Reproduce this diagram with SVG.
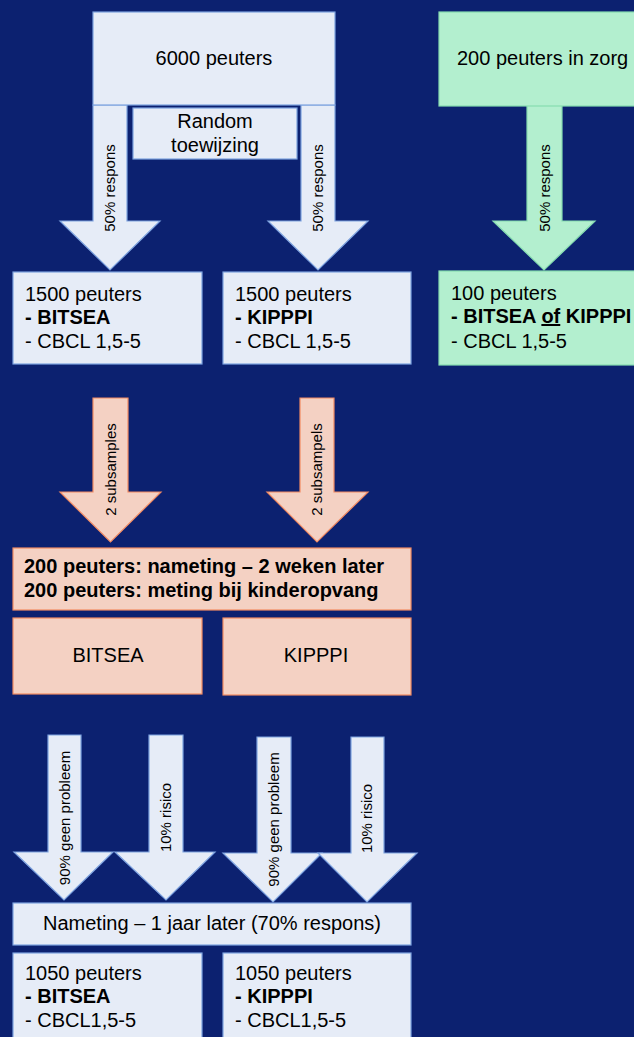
<svg xmlns="http://www.w3.org/2000/svg" width="634" height="1037" viewBox="0 0 634 1037">
<style>
text{font-family:"Liberation Sans",Arial,sans-serif;fill:#000}
.t{font-size:20px}
.b{font-weight:bold}
.r{font-size:15px;text-anchor:middle}
.m{text-anchor:middle}
.blue{fill:#e6ecf7;stroke:#7ea3e0;stroke-width:1.2}
.green{fill:#b3efcf;stroke:#86dcb0;stroke-width:1.2}
.orange{fill:#f4d1c3;stroke:#f28a62;stroke-width:1.2}
</style>
<rect width="634" height="1037" fill="#0c2170"/>
<g id="connectors">
<polygon class="blue" points="93,105 127,105 127,221 160,221 110,270 60,221 93,221"/>
<polygon class="blue" points="301,105 335,105 335,221 368,221 318,270 268,221 301,221"/>
<polygon class="green" points="527,105 562,105 562,221 595,221 544,270 493,221 527,221"/>
<polygon class="orange" points="93,398 128,398 128,492 161,492 110.5,542 60,492 93,492"/>
<polygon class="orange" points="300,398 334,398 334,492 368,492 317,542 267,492 300,492"/>
<polygon class="blue" points="48,735 81,735 81,852 113,852 64,900 14,852 48,852"/>
<polygon class="blue" points="149,735 183,735 183,852 215,852 166,900 115,852 149,852"/>
<polygon class="blue" points="257,737 291,737 291,853 322,853 273,902 223,853 257,853"/>
<polygon class="blue" points="351,737 384,737 384,853 417,853 367,902 318,853 351,853"/>
<text class="r" transform="translate(115,188) rotate(-90)">50% respons</text>
<text class="r" transform="translate(323,188) rotate(-90)">50% respons</text>
<text class="r" transform="translate(549.5,188) rotate(-90)">50% respons</text>
<text class="r" transform="translate(115.5,469.5) rotate(-90)">2 subsamples</text>
<text class="r" transform="translate(322,469.5) rotate(-90)">2 subsampels</text>
<text class="r" transform="translate(69.5,818) rotate(-90)">90% geen probleem</text>
<text class="r" transform="translate(171,817.5) rotate(-90)">10% risico</text>
<text class="r" transform="translate(278.5,819.5) rotate(-90)">90% geen probleem</text>
<text class="r" transform="translate(372,818.5) rotate(-90)">10% risico</text>
</g>
<g id="n6000">
<rect class="blue" x="93" y="12" width="242" height="93"/>
<text class="t m" x="214" y="65">6000 peuters</text>
</g>
<g id="random">
<rect class="blue" x="133" y="108" width="164" height="51"/>
<text class="t m" x="215" y="128">Random</text>
<text class="t m" x="215" y="152">toewijzing</text>
</g>
<g id="n200zorg">
<rect class="green" x="439" y="12" width="210" height="94"/>
<text class="t" x="457" y="65">200 peuters in zorg</text>
</g>
<g id="n1500a">
<rect class="blue" x="13" y="272" width="189" height="92"/>
<text class="t" x="25" y="301">1500 peuters</text>
<text class="t b" x="25" y="324">- BITSEA</text>
<text class="t" x="25" y="348">- CBCL 1,5-5</text>
</g>
<g id="n1500b">
<rect class="blue" x="223" y="272" width="188" height="92"/>
<text class="t" x="235" y="301">1500 peuters</text>
<text class="t b" x="235" y="324">- KIPPPI</text>
<text class="t" x="235" y="348">- CBCL 1,5-5</text>
</g>
<g id="n100">
<rect class="green" x="439" y="271" width="210" height="94"/>
<text class="t" x="451" y="300">100 peuters</text>
<text class="t b" x="451" y="323">- BITSEA <tspan text-decoration="underline">of</tspan> KIPPPI</text>
<text class="t" x="451" y="348">- CBCL 1,5-5</text>
</g>
<g id="n200sub">
<rect class="orange" x="13" y="548" width="398" height="62"/>
<text class="t b" x="24" y="573">200 peuters: nameting – 2 weken later</text>
<text class="t b" x="24" y="597">200 peuters: meting bij kinderopvang</text>
</g>
<g id="bitsea">
<rect class="orange" x="13" y="618" width="189" height="76"/>
<text class="t m" x="108" y="662">BITSEA</text>
</g>
<g id="kipppi">
<rect class="orange" x="223" y="618" width="188" height="77"/>
<text class="t m" x="316" y="662">KIPPPI</text>
</g>
<g id="nameting">
<rect class="blue" x="13" y="903" width="398" height="42"/>
<text class="t m" x="212" y="930">Nameting – 1 jaar later (70% respons)</text>
</g>
<g id="n1050a">
<rect class="blue" x="13" y="953" width="189" height="100"/>
<text class="t" x="25" y="980">1050 peuters</text>
<text class="t b" x="25" y="1003">- BITSEA</text>
<text class="t" x="25" y="1027">- CBCL1,5-5</text>
</g>
<g id="n1050b">
<rect class="blue" x="223" y="953" width="188" height="100"/>
<text class="t" x="235" y="980">1050 peuters</text>
<text class="t b" x="235" y="1003">- KIPPPI</text>
<text class="t" x="235" y="1027">- CBCL1,5-5</text>
</g>
</svg>
